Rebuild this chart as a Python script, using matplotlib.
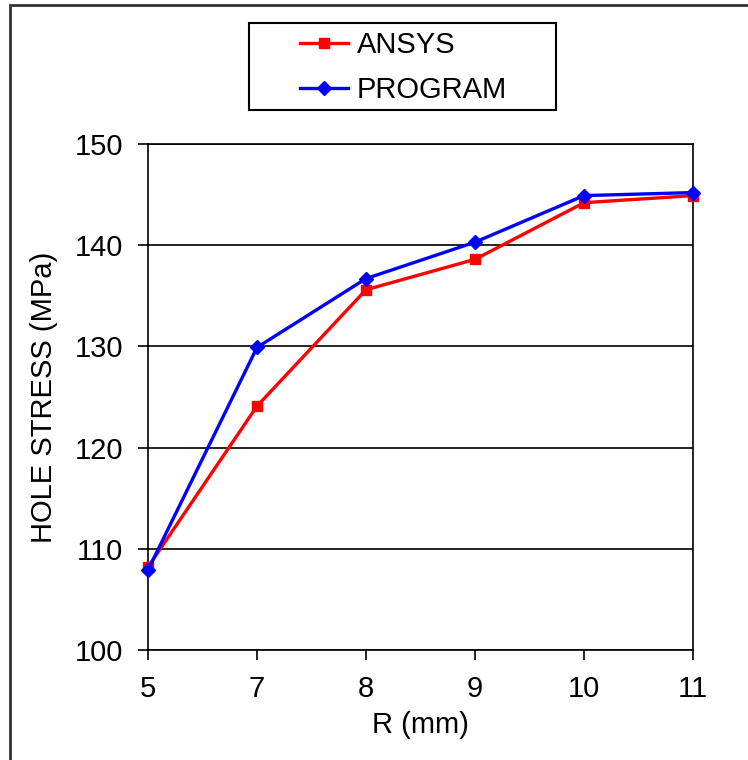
import matplotlib
matplotlib.use("Agg")
import matplotlib.pyplot as plt
from matplotlib.patches import Rectangle

plt.rcParams["font.family"] = ["Liberation Sans", "DejaVu Sans"]

radius_labels = ["5", "7", "8", "9", "10", "11"]
ansys_stress = [108.2, 124.1, 135.6, 138.6, 144.2, 144.9]
program_stress = [107.9, 129.9, 136.7, 140.3, 144.9, 145.2]
y_ticks = [100, 110, 120, 130, 140, 150]

FS = 21

fig = plt.figure(figsize=(7.48, 7.60), dpi=100)
ax = fig.add_axes([148 / 748, 1 - 650 / 760, (693 - 148) / 748, (650 - 144) / 760])

x = list(range(len(radius_labels)))
ansys_line, = ax.plot(x, ansys_stress, color="#ff0000", lw=2.4, marker="s",
                      markersize=7.5, label="ANSYS", zorder=3, clip_on=False)
program_line, = ax.plot(x, program_stress, color="#0000ff", lw=2.4, marker="D",
                        markersize=7, label="PROGRAM", zorder=4, clip_on=False)

ax.set_xlim(0, len(radius_labels) - 1)
ax.set_ylim(100, 150)
ax.set_xticks(x)
ax.set_xticklabels(radius_labels)
ax.set_yticks(y_ticks)
ax.yaxis.grid(True, color="black", lw=1.2)
ax.set_axisbelow(True)
for s in ax.spines.values():
    s.set_color("black")
    s.set_linewidth(1.2)
ax.tick_params(axis="both", direction="out", length=7, width=1.2,
               labelsize=FS, pad=11)

ax.set_xlabel("R (mm)", fontsize=FS, labelpad=6)
ax.set_ylabel("HOLE STRESS (MPa)", fontsize=FS, labelpad=12)

# legend box drawn separately so the entries can sit left of centre
fig.patches.append(Rectangle((249 / 748, 1 - 110 / 760), (556 - 249) / 748, 87 / 760,
                             transform=fig.transFigure, fill=False,
                             edgecolor="black", lw=1.5))
leg = fig.legend(handles=[ansys_line, program_line], loc="upper left",
                 bbox_to_anchor=(291 / 748, 1 - 22 / 760),
                 fontsize=FS, frameon=False, handlelength=1.65,
                 borderpad=0.3, labelspacing=0.6, borderaxespad=0,
                 handletextpad=0.3)

fig.patches.append(Rectangle((10 / 748, -0.1), 1.2, 1.1 - 5 / 760,
                             transform=fig.transFigure, fill=False,
                             edgecolor="#333333", lw=2, clip_on=False))

fig.savefig("out.png", dpi=100)
